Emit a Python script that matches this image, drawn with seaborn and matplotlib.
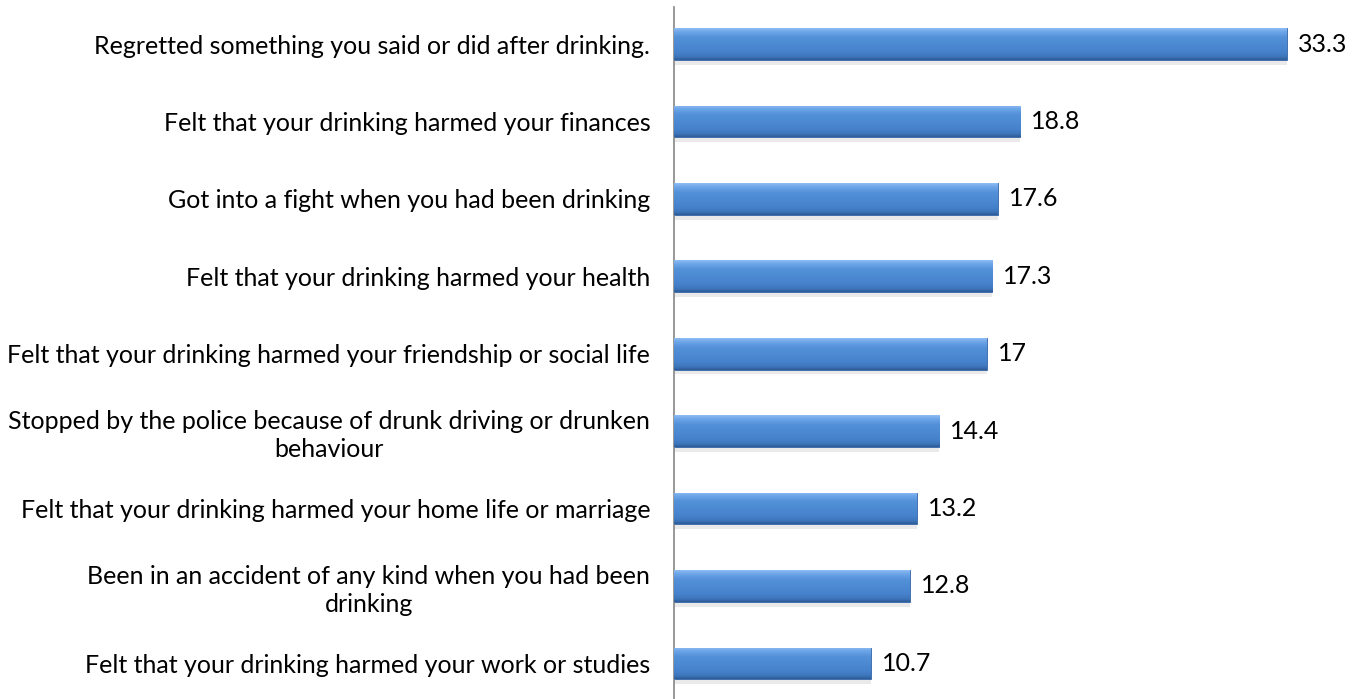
import numpy as np
import pandas as pd
import matplotlib
matplotlib.use("Agg")
import matplotlib.pyplot as plt
import seaborn as sns
from matplotlib.colors import LinearSegmentedColormap

categories = [
    "Regretted something you said or did after drinking.",
    "Felt that your drinking harmed your finances",
    "Got into a fight when you had been drinking",
    "Felt that your drinking harmed your health",
    "Felt that your drinking harmed your friendship or social life",
    "Stopped by the police because of drunk driving or drunken\nbehaviour",
    "Felt that your drinking harmed your home life or marriage",
    "Been in an accident of any kind when you had been\ndrinking",
    "Felt that your drinking harmed your work or studies",
]
values = [33.3, 18.8, 17.6, 17.3, 17, 14.4, 13.2, 12.8, 10.7]
value_labels = ["33.3", "18.8", "17.6", "17.3", "17", "14.4", "13.2", "12.8", "10.7"]

df = pd.DataFrame({"item": categories, "pct": values})

sns.set_theme(style="white")
plt.rcParams["font.family"] = ["Lato", "DejaVu Sans"]

fig = plt.figure(figsize=(13.56, 6.99), dpi=100)
ax = fig.add_axes([0.497, 0.0, 0.503, 0.99])

sns.barplot(data=df, x="pct", y="item", orient="h", color="#4a86d0",
            width=0.41, ax=ax, saturation=1)

# glossy vertical gradient on each bar (light top edge, darker bottom edge)
grad = LinearSegmentedColormap.from_list(
    "bevel", [(0.0, "#8cbcf2"), (0.12, "#6ca4e8"), (0.3, "#5290d8"),
              (0.75, "#4682cc"), (0.9, "#3e76bc"), (1.0, "#2f5c98")])
shade = np.linspace(0, 1, 64).reshape(-1, 1)
for bar in list(ax.patches):
    x0, y0 = bar.get_x(), bar.get_y()
    w, h = bar.get_width(), bar.get_height()
    # soft shadow under the bar
    ax.add_patch(plt.Rectangle((x0, y0 + h * 0.15), w, h, color="#c4c4c4",
                               alpha=0.35, lw=0, zorder=1))
    bar.set_zorder(2)
    bar.set_edgecolor("#3465a6")
    bar.set_linewidth(0.6)
    img = ax.imshow(shade, cmap=grad, aspect="auto", zorder=3,
                    extent=(x0, x0 + w, y0 + h, y0), interpolation="bilinear")
    img.set_clip_path(bar)

for i, v in enumerate(values):
    ax.text(v + 0.6, i, value_labels[i], va="center", ha="left",
            fontsize=18, color="#000000")

ax.set_xlim(0, 37.06)
ax.set_ylim(8.46, -0.48)
ax.set_xlabel("")
ax.set_ylabel("")
ax.set_xticks([])
ax.tick_params(axis="y", length=0, pad=17, labelsize=18, labelcolor="#000000")
for lbl in ax.get_yticklabels():
    lbl.set_multialignment("center")
    lbl.set_linespacing(1.25)

sns.despine(ax=ax, top=True, right=True, bottom=True, left=False)
ax.spines["left"].set_color("#868686")
ax.spines["left"].set_linewidth(1.2)

fig.savefig("out.png", dpi=100)
